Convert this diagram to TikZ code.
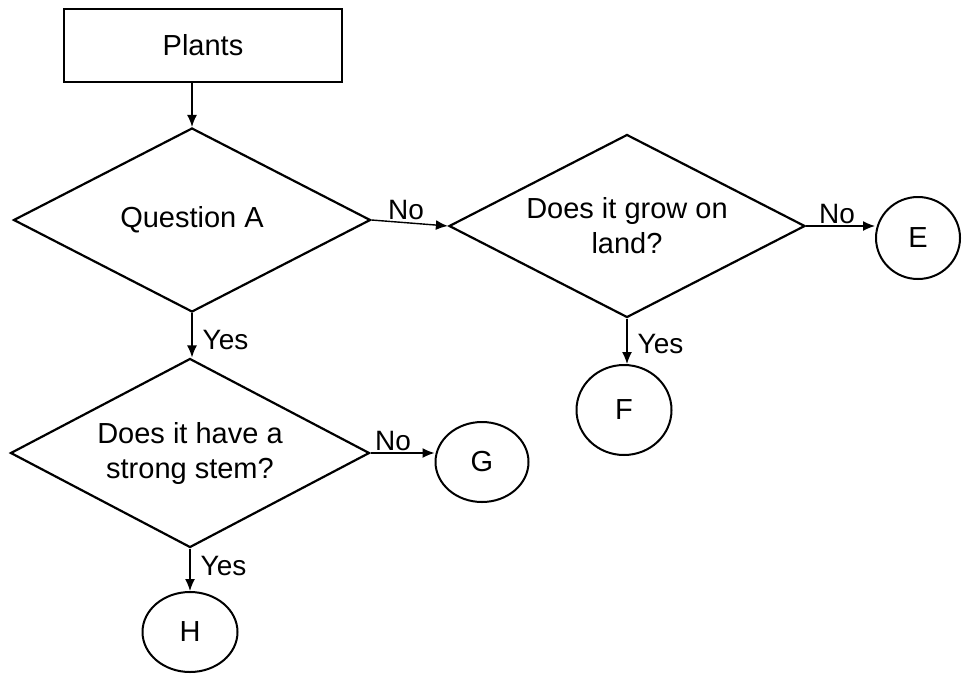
\documentclass[tikz,border=0pt]{standalone}
\usepackage{fontspec}
\setmainfont{Liberation Sans}
\usetikzlibrary{shapes.geometric,arrows.meta,calc}
\begin{document}
\begin{tikzpicture}[x=1pt,y=-1pt,
  txt/.style={font=\fontsize{29}{35}\selectfont},
  lbl/.style={font=\fontsize{28}{32}\selectfont, inner sep=2pt},
  yes/.style={lbl, right, xshift=8pt},
  dia/.style={diamond, draw, line width=2.2pt, inner sep=0pt, shape aspect=2, align=center, txt},
  box/.style={rectangle, draw, line width=2.8pt, inner sep=0pt, txt},
  leaf/.style={ellipse, draw, line width=2pt, inner sep=0pt, txt},
  arr/.style={-{Latex[length=12pt,width=10pt]}, line width=1.4pt}]
\useasboundingbox (0,0) rectangle (965,675);

\node[box, minimum width=278pt, minimum height=73pt] (P) at (203,45.5) {Plants};
\node[dia, minimum width=357pt, minimum height=184pt] (A) at (192,220) {Question A};
\node[dia, minimum width=356pt, minimum height=183pt] (D2) at (627,226) {Does it grow on\\land?};
\node[dia, minimum width=359pt, minimum height=189pt] (D3) at (190,453) {Does it have a\\strong stem?};

\node[leaf, minimum width=84pt, minimum height=82pt] (E) at (918,238) {E};
\node[leaf, minimum width=95pt, minimum height=90pt] (F) at (624,410) {F};
\node[leaf, minimum width=93pt, minimum height=80pt] (G) at (482,462) {G};
\node[leaf, minimum width=95pt, minimum height=80pt] (H) at (190,632) {H};

\draw[arr] (A.north |- P.south) -- (A.north);
\draw[arr] (A.east) -- node[lbl, above, pos=0.45] {No} (D2.west);
\draw[arr] (D2.east) -- node[lbl, above, pos=0.45] {No} (D2.east -| E.west);
\draw[arr] (D2.south) -- node[yes, pos=0.55] {Yes} (D2.south |- F.north);
\draw[arr] (A.south) -- node[yes, pos=0.6] {Yes} (A.south |- D3.north);
\draw[arr] (D3.east) -- node[lbl, above, pos=0.35] {No} (D3.east -| G.west);
\draw[arr] (D3.south) -- node[yes, pos=0.4] {Yes} (H.north);
\end{tikzpicture}
\end{document}
